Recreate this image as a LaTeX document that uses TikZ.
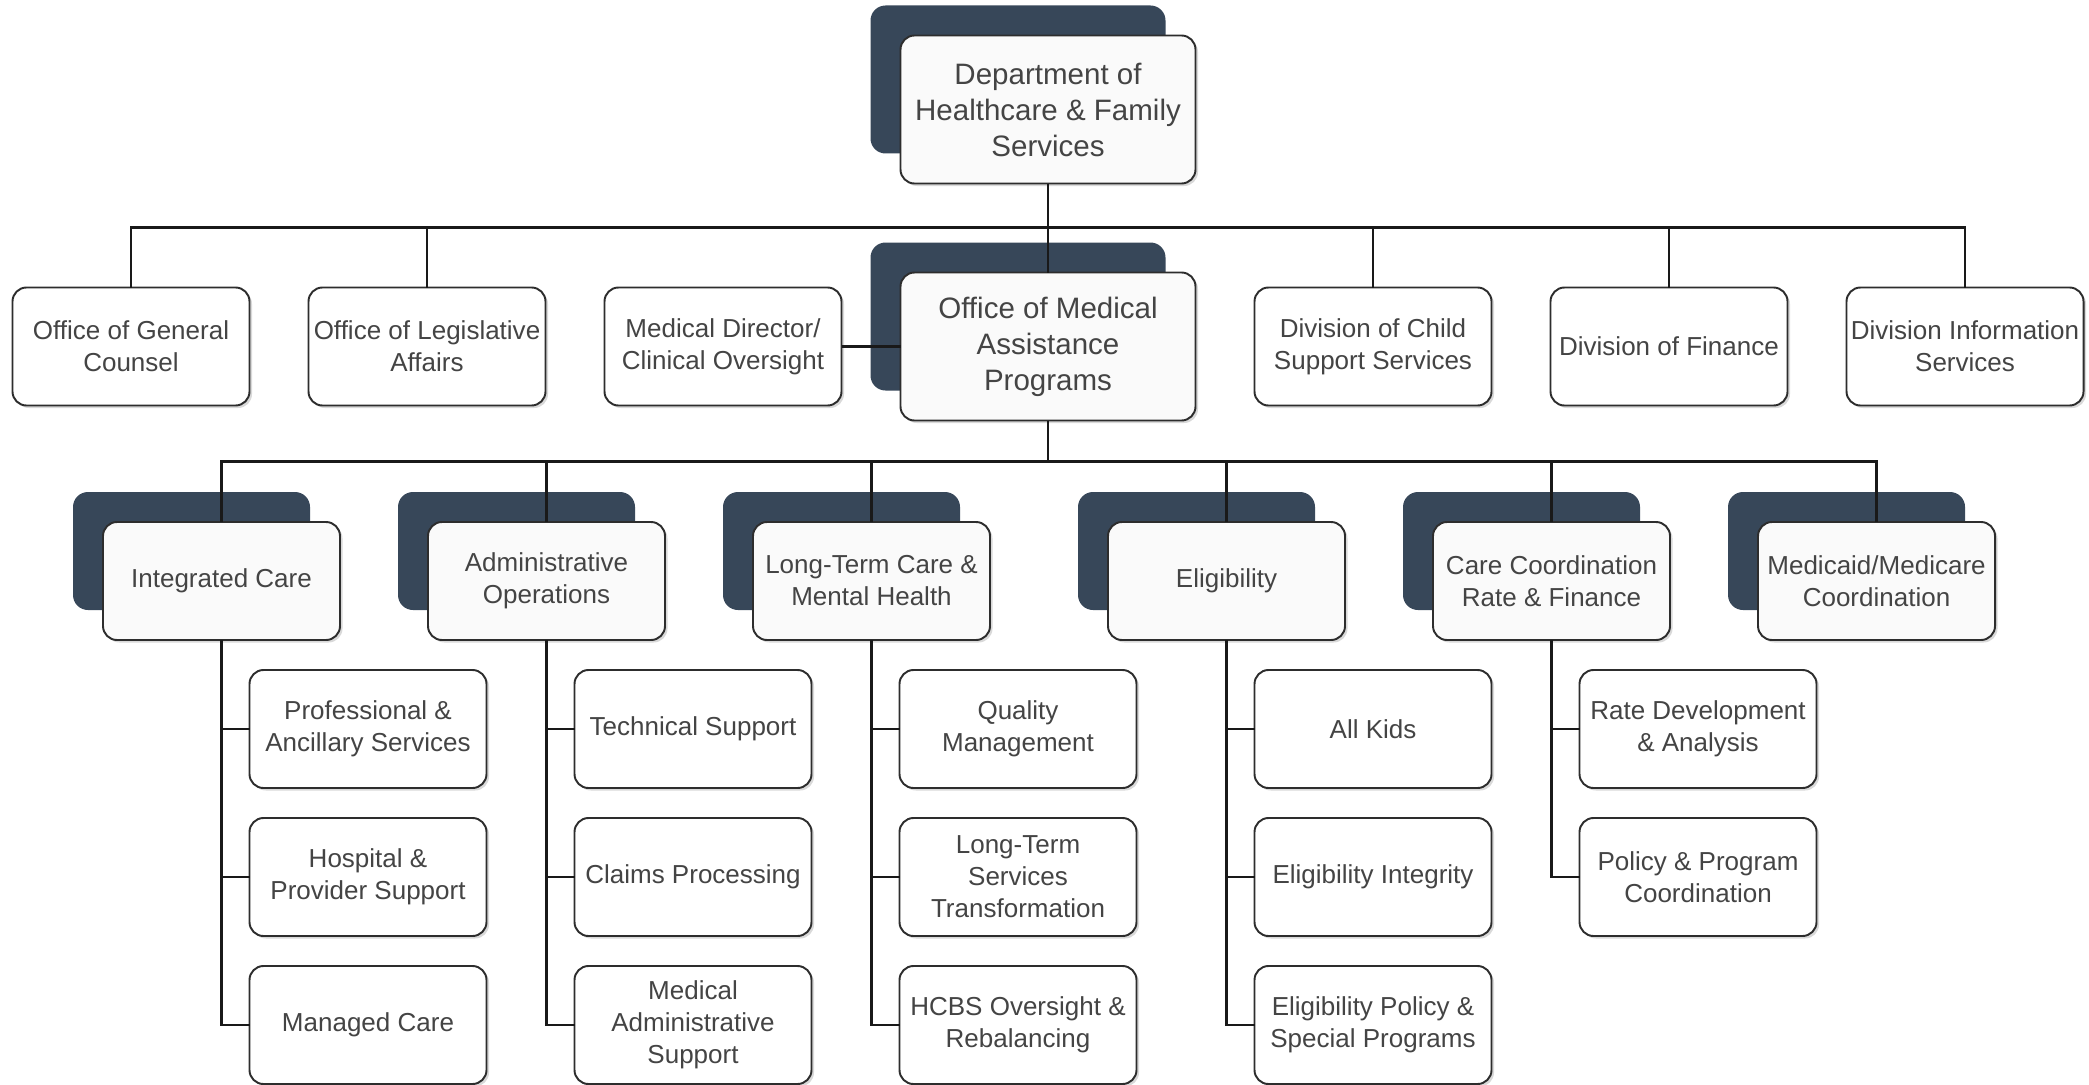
\documentclass[tikz,border=0pt]{standalone}
\usepackage{fontspec}
\setmainfont{Liberation Sans}
\usepackage{tikz}
\usetikzlibrary{positioning, fit, backgrounds, shadows}
\definecolor{slate}{RGB}{55,71,89}
\definecolor{inkgray}{RGB}{68,68,68}
\definecolor{edgegray}{RGB}{45,45,45}

\begin{document}
\begin{tikzpicture}[
    font=\fontsize{14.8pt}{18.2pt}\selectfont,
    unit/.style={rectangle, draw=edgegray, line width=1.1pt, rounded corners=0.28cm, minimum width=4.74cm, minimum height=2.36cm, inner sep=1pt, outer sep=0pt, align=center, fill=white, text=inkgray, drop shadow={shadow xshift=0.05cm, shadow yshift=-0.05cm, opacity=0.3, fill=gray}},
    prog/.style={unit, fill=gray!4},
    head/.style={prog, minimum width=5.9cm, minimum height=2.96cm, font=\fontsize{16.8pt}{20.5pt}\selectfont},
    backbox/.style={rectangle, fill=slate, rounded corners=0.3cm, inner sep=0pt},
    link/.style={draw=black!90, line width=1.4pt}
]
    \useasboundingbox (0,0) rectangle (41.78,-21.68);

    % Nodes
    \node[unit] (counsel) at (2.62,-6.93) {Office of General\\Counsel};
    \node[unit] (legis) [right=1.18cm of counsel] {Office of Legislative\\Affairs};
    \node[unit] (meddir) [right=1.18cm of legis] {Medical Director/\\Clinical Oversight};
    \node[head] (omap) [right=1.18cm of meddir] {Office of Medical\\Assistance\\Programs};
    \node[unit] (childsup) [right=1.18cm of omap] {Division of Child\\Support Services};
    \node[unit] (finance) [right=1.18cm of childsup] {Division of Finance};
    \node[unit] (infosvc) [right=1.18cm of finance] {Division Information\\Services};
    \node[head] (dept) [above=1.78cm of omap] {Department of\\Healthcare \& Family\\Services};

    \node[prog] (integ) at (4.43,-11.62) {Integrated Care};
    \node[prog] (adminops) [right=1.76cm of integ] {Administrative\\Operations};
    \node[prog] (ltcmh) [right=1.76cm of adminops] {Long-Term Care \&\\Mental Health};
    \node[prog] (elig) [right=2.36cm of ltcmh] {Eligibility};
    \node[prog] (ccrf) [right=1.76cm of elig] {Care Coordination\\Rate \& Finance};
    \node[prog] (mmc) [right=1.76cm of ccrf] {Medicaid/Medicare\\Coordination};

    \node[unit] (profanc) [below=0.6cm of integ, xshift=2.93cm] {Professional \&\\Ancillary Services};
    \node[unit] (hosp) [below=0.6cm of profanc] {Hospital \&\\Provider Support};
    \node[unit] (mancare) [below=0.6cm of hosp] {Managed Care};

    \node[unit] (techsup) [below=0.6cm of adminops, xshift=2.93cm] {Technical Support};
    \node[unit] (claims) [below=0.6cm of techsup] {Claims Processing};
    \node[unit] (medadmin) [below=0.6cm of claims] {Medical\\Administrative\\Support};

    \node[unit] (quality) [below=0.6cm of ltcmh, xshift=2.93cm] {Quality\\Management};
    \node[unit] (ltst) [below=0.6cm of quality] {Long-Term\\Services\\Transformation};
    \node[unit] (hcbs) [below=0.6cm of ltst] {HCBS Oversight \&\\Rebalancing};

    \node[unit] (allkids) [below=0.6cm of elig, xshift=2.93cm] {All Kids};
    \node[unit] (eliginteg) [below=0.6cm of allkids] {Eligibility Integrity};
    \node[unit] (eligpol) [below=0.6cm of eliginteg] {Eligibility Policy \&\\Special Programs};

    \node[unit] (ratedev) [below=0.6cm of ccrf, xshift=2.93cm] {Rate Development\\\& Analysis};
    \node[unit] (polprog) [below=0.6cm of ratedev] {Policy \& Program\\Coordination};

    % Dark tabs behind the program boxes
    \begin{scope}[on background layer]
        \foreach \n in {dept, omap, integ, adminops, ltcmh, elig, ccrf, mmc}
            \node[backbox, fit=(\n), xshift=-0.6cm, yshift=0.6cm] {};
    \end{scope}

    % Connectors
    \coordinate (bus1) at ([yshift=-0.88cm]dept.south);
    \coordinate (bus2) at ([yshift=-0.82cm]omap.south);

    \draw[link] (dept.south) -- (omap.north);
    \foreach \n in {counsel, legis, childsup, finance, infosvc}
        \draw[link] (bus1) -| (\n.north);
    \draw[link] (meddir) -- (omap);

    \draw[link] (omap.south) -- (bus2);
    \foreach \n in {integ, adminops, ltcmh, elig, ccrf, mmc}
        \draw[link] (bus2) -| (\n.north);

    \foreach \p/\c in {integ/profanc, integ/hosp, integ/mancare,
                       adminops/techsup, adminops/claims, adminops/medadmin,
                       ltcmh/quality, ltcmh/ltst, ltcmh/hcbs,
                       elig/allkids, elig/eliginteg, elig/eligpol,
                       ccrf/ratedev, ccrf/polprog}
        \draw[link] (\p.south) |- (\c.west);
\end{tikzpicture}
\end{document}
